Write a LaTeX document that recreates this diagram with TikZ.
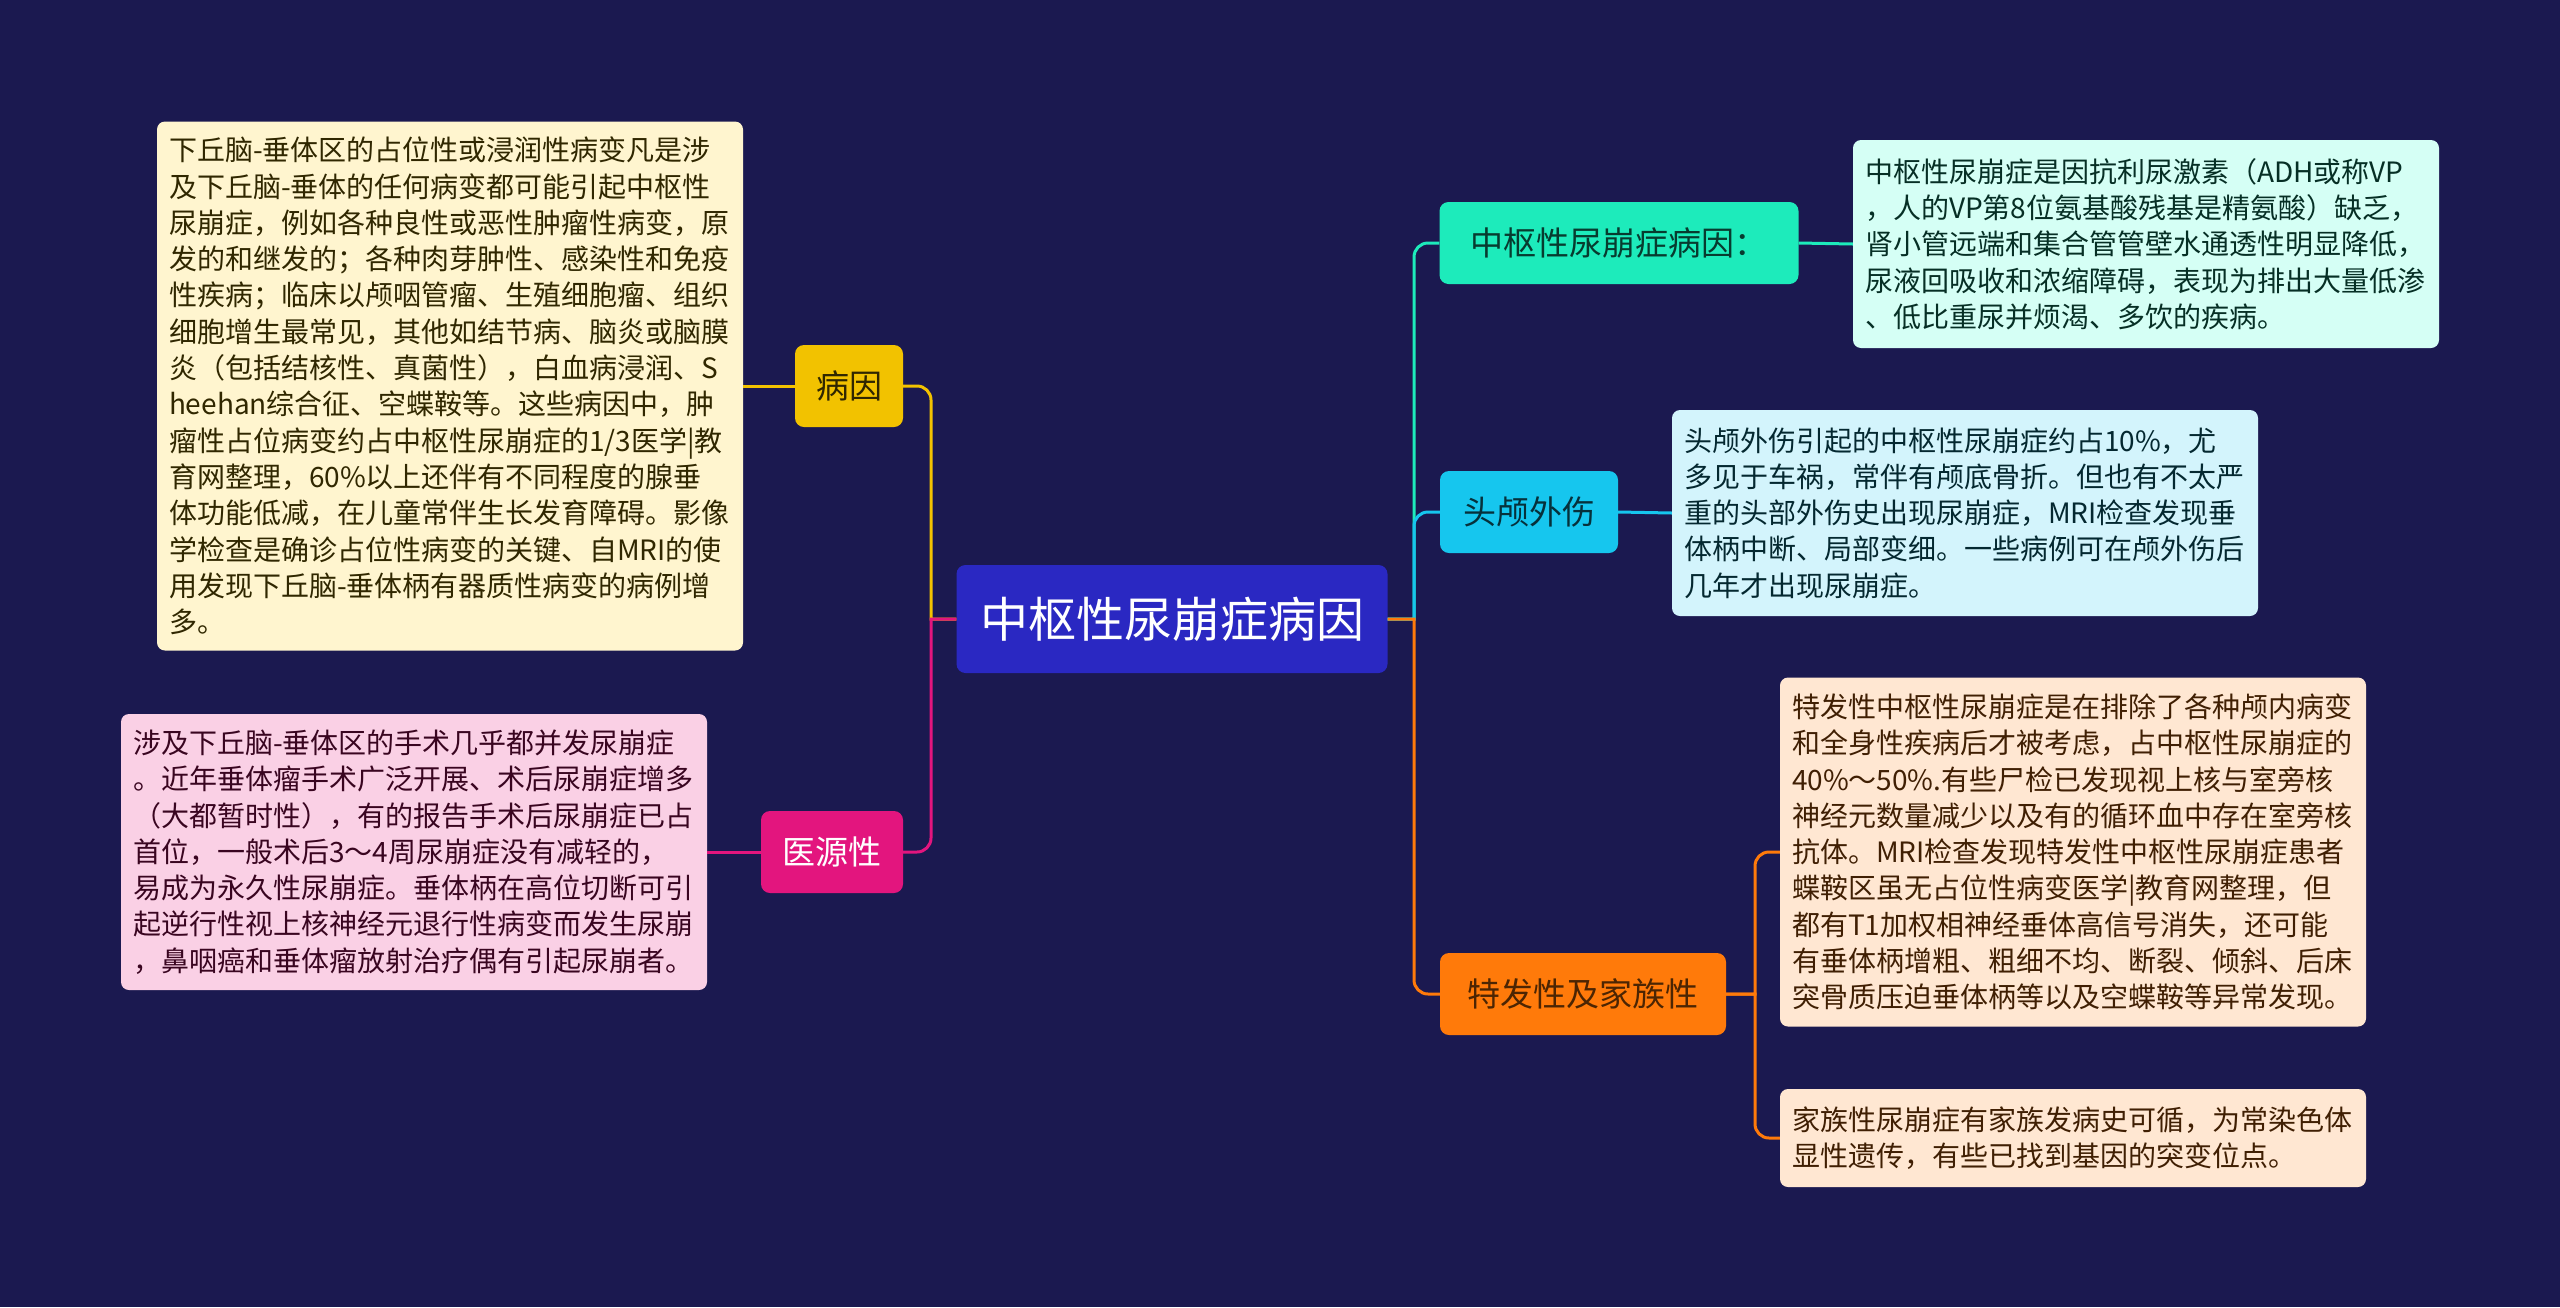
\documentclass[tikz,border=0pt]{standalone}
\usepackage{fontspec}
\setmainfont{Noto Sans CJK SC}
\usepackage{tikz}
\usetikzlibrary{calc, positioning}

\definecolor{bg}{HTML}{1B1950}
\definecolor{rootc}{HTML}{2A28C2}
\definecolor{yel}{HTML}{F2C200}
\definecolor{pnk}{HTML}{E3157E}
\definecolor{tea}{HTML}{1DEBBB}
\definecolor{cya}{HTML}{16C6EE}
\definecolor{org}{HTML}{FF7A0A}
\definecolor{yelbox}{HTML}{FFF5CF}
\definecolor{pnkbox}{HTML}{FAD0E5}
\definecolor{teabox}{HTML}{D5FFF5}
\definecolor{cyabox}{HTML}{D3F4FC}
\definecolor{orgbox}{HTML}{FFE7D2}

\begin{document}
\begin{tikzpicture}[x=1pt, y=-1pt,
  txt/.style={rounded corners=8pt, inner xsep=12pt, inner ysep=0pt, text width=562pt, align=left, font=\fontsize{28pt}{36.3pt}\selectfont},
  brn/.style={rounded corners=9pt, minimum height=82pt, inner xsep=0pt, font=\fontsize{33pt}{40pt}\selectfont},
  ln/.style={line width=3pt}]
\fill[bg] (0,0) rectangle (2560,1307);
\useasboundingbox (0,0) rectangle (2560,1307);

\node[rounded corners=9pt, fill=rootc, text=white, minimum width=431pt, minimum height=108pt, font=\fontsize{48pt}{54pt}\selectfont] (root) at (1172,619) {中枢性尿崩症病因};

\node[brn, fill=yel, text=yel!20!black, minimum width=108pt] (bingyin) at (849,386) {病因};
\node[brn, fill=pnk, text=white, minimum width=142pt] (yiyuan) at (832,852) {医源性};
\node[brn, fill=tea, text=tea!25!black, minimum width=359pt] (cause) at (1619,243) {中枢性尿崩症病因：};
\node[brn, fill=cya, text=cya!25!black, minimum width=178pt] (trauma) at (1529,512) {头颅外伤};
\node[brn, fill=org, text=org!30!black, minimum width=286pt] (idio) at (1583,994) {特发性及家族性};

\node[txt, fill=yelbox, text=yel!20!black, minimum height=529pt] (ybox) at (450,386) {下丘脑-垂体区的占位性或浸润性病变凡是涉\\及下丘脑-垂体的任何病变都可能引起中枢性\\尿崩症，例如各种良性或恶性肿瘤性病变，原\\发的和继发的；各种肉芽肿性、感染性和免疫\\性疾病；临床以颅咽管瘤、生殖细胞瘤、组织\\细胞增生最常见，其他如结节病、脑炎或脑膜\\炎（包括结核性、真菌性），白血病浸润、S\\heehan综合征、空蝶鞍等。这些病因中，肿\\瘤性占位病变约占中枢性尿崩症的1/3医学|教\\育网整理，60\%以上还伴有不同程度的腺垂\\体功能低减，在儿童常伴生长发育障碍。影像\\学检查是确诊占位性病变的关键、自MRI的使\\用发现下丘脑-垂体柄有器质性病变的病例增\\多。};
\node[txt, fill=pnkbox, text=pnk!25!black, minimum height=276pt] (pbox) at (414,852) {涉及下丘脑-垂体区的手术几乎都并发尿崩症\\。近年垂体瘤手术广泛开展、术后尿崩症增多\\（大都暂时性），有的报告手术后尿崩症已占\\首位，一般术后3～4周尿崩症没有减轻的，\\易成为永久性尿崩症。垂体柄在高位切断可引\\起逆行性视上核神经元退行性病变而发生尿崩\\，鼻咽癌和垂体瘤放射治疗偶有引起尿崩者。};
\node[txt, fill=teabox, text=tea!20!black, minimum height=208pt] (tbox) at (2146,244) {中枢性尿崩症是因抗利尿激素（ADH或称VP\\，人的VP第8位氨基酸残基是精氨酸）缺乏，\\肾小管远端和集合管管壁水通透性明显降低，\\尿液回吸收和浓缩障碍，表现为排出大量低渗\\、低比重尿并烦渴、多饮的疾病。};
\node[txt, fill=cyabox, text=cya!20!black, minimum height=206pt] (cbox) at (1965,513) {头颅外伤引起的中枢性尿崩症约占10\%，尤\\多见于车祸，常伴有颅底骨折。但也有不太严\\重的头部外伤史出现尿崩症，MRI检查发现垂\\体柄中断、局部变细。一些病例可在颅外伤后\\几年才出现尿崩症。};
\node[txt, fill=orgbox, text=org!25!black, minimum height=349pt] (obox) at (2073,852) {特发性中枢性尿崩症是在排除了各种颅内病变\\和全身性疾病后才被考虑，占中枢性尿崩症的\\40\%～50\%.有些尸检已发现视上核与室旁核\\神经元数量减少以及有的循环血中存在室旁核\\抗体。MRI检查发现特发性中枢性尿崩症患者\\蝶鞍区虽无占位性病变医学|教育网整理，但\\都有T1加权相神经垂体高信号消失，还可能\\有垂体柄增粗、粗细不均、断裂、倾斜、后床\\突骨质压迫垂体柄等以及空蝶鞍等异常发现。};
\node[txt, fill=orgbox, text=org!25!black, minimum height=98pt] (fbox) at (2073,1138) {家族性尿崩症有家族发病史可循，为常染色体\\显性遗传，有些已找到基因的突变位点。};

\coordinate (ljoin) at (931,619);
\coordinate (rjoin) at (1414,619);
\coordinate (ojoin) at (1755,994);

\draw[ln, yel] (root.west) -- (ljoin) [rounded corners=14pt] |- (bingyin.east);
\draw[ln, pnk] (root.west) -- (ljoin) [rounded corners=14pt] |- (yiyuan.east);
\draw[ln, yel] (bingyin.west) -- (ybox.east);
\draw[ln, pnk] (yiyuan.west) -- (pbox.east);

\draw[ln, tea] (root.east) -- (rjoin) [rounded corners=14pt] |- (cause.west);
\draw[ln, cya] (root.east) -- (rjoin) [rounded corners=14pt] |- (trauma.west);
\draw[ln, org] (root.east) -- (rjoin) [rounded corners=14pt] |- (idio.west);
\draw[ln, tea] (cause.east) -- (tbox.west);
\draw[ln, cya] (trauma.east) -- (cbox.west);
\draw[ln, org] (idio.east) -- (ojoin) [rounded corners=14pt] |- (obox.west);
\draw[ln, org] (idio.east) -- (ojoin) [rounded corners=14pt] |- (fbox.west);
\end{tikzpicture}
\end{document}
